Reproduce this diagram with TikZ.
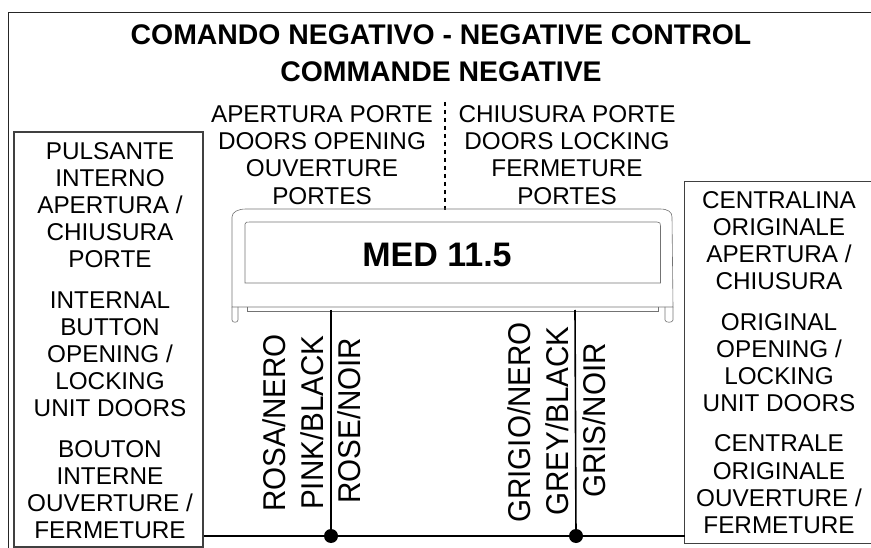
\documentclass[tikz,border=0pt]{standalone}
\usepackage{fontspec}
\usepackage{graphicx}
\setmainfont{Liberation Sans}
\newcommand\narrowlbl[1]{\scalebox{0.94}[1]{#1}}
\tikzset{
  wire/.style={line width=1.6pt,black},
  frameline/.style={line width=1.1pt,draw=black!85},
  boxline/.style={line width=1.1pt,draw=black!75},
  housing/.style={line width=0.6pt,draw=black!55},
  lbl/.style={font=\fontsize{24.3}{27.2}\selectfont,align=center,inner sep=0pt},
  rot/.style={font=\fontsize{31.5}{34}\selectfont,inner sep=0pt,rotate=90,anchor=base west},
  ttl/.style={font=\fontsize{28.4}{37}\selectfont\bfseries,align=center,inner sep=0pt},
  dot/.style={circle,fill=black,inner sep=0pt,minimum size=14pt}
}
\begin{document}
\begin{tikzpicture}[x=1pt,y=-1pt]
\useasboundingbox (0,0) rectangle (871,548);
\draw[frameline] (8.5,548) -- (8.5,12.5) -- (871,12.5);
\node[ttl] (title) at (441,53) {COMANDO NEGATIVO - NEGATIVE CONTROL\\COMMANDE NEGATIVE};
\node[lbl] (open) at (322,155) {APERTURA PORTE\\DOORS OPENING\\OUVERTURE\\PORTES};
\node[lbl] (close) at (567,155) {CHIUSURA PORTE\\DOORS LOCKING\\FERMETURE\\PORTES};
\coordinate (divtop) at (445,102);
\coordinate (divbot) at (445,210);
\draw[line width=1.4pt,dash pattern=on 4pt off 4pt] (divtop) -- (divbot);
\draw[housing] (232,307) -- (232,217) .. controls (232,212) and (238,209) .. (246,209) -- (660,209) .. controls (668,209) and (672,212) .. (672,217) -- (673,307) -- cycle;
\draw[housing] (232,307) -- (232,320) .. controls (232,323) and (238,323) .. (238,320) -- (238,307);
\draw[housing] (665,307) -- (665,320) .. controls (665,323) and (673,323) .. (673,320) -- (673,307);
\draw[housing] (247,307) -- (247,311) -- (658,311) -- (658,307);
\draw[housing] (245,283) -- (245,224) .. controls (245,222) and (247,222) .. (250,222) -- (657,222) .. controls (660,222) and (660.5,223) .. (660.5,226) -- (660.5,283) -- cycle;
\node[font=\fontsize{34}{38}\selectfont\bfseries,inner sep=0pt] (med) at (437,255) {MED 11.5};
\node[draw,boxline,minimum width=189pt,minimum height=415pt,inner sep=0pt] (left) at (108.5,339.5) {};
\node[lbl] (lefttext) at (110,340.5) {PULSANTE\\INTERNO\\APERTURA /\\CHIUSURA\\PORTE\\[13pt]INTERNAL\\BUTTON\\OPENING /\\LOCKING\\UNIT DOORS\\[13pt]BOUTON\\INTERNE\\OUVERTURE /\\FERMETURE};
\node[lbl,minimum width=188pt,minimum height=361pt] (right) at (779,362.5) {CENTRALINA\\ORIGINALE\\APERTURA /\\CHIUSURA\\[13pt]ORIGINAL\\OPENING /\\LOCKING\\UNIT DOORS\\[13pt]CENTRALE\\ORIGINALE\\OUVERTURE /\\FERMETURE};
\draw[boxline] (right.north east) -- (right.north west) -- (right.south west) -- (right.south east);
\node[dot] (j1) at (331,536) {};
\node[dot] (j2) at (576,536) {};
\coordinate (t1) at (331,310);
\coordinate (t2) at (575,310);
\draw[wire] (left.east |- j1) -- (j1) -- (j2) -- (right.west |- j2);
\draw[wire] (t1) -- (j1);
\draw[wire] (t2) -- (j2);
\node[rot] (a1) at (285,512) {\narrowlbl{ROSA/NERO}};
\node[rot] (a2) at (323,510) {\narrowlbl{PINK/BLACK}};
\node[rot] (a3) at (360,504) {\narrowlbl{ROSE/NOIR}};
\node[rot] (b1) at (530,523) {\narrowlbl{GRIGIO/NERO}};
\node[rot] (b2) at (568,516) {\narrowlbl{GREY/BLACK}};
\node[rot] (b3) at (605,498) {\narrowlbl{GRIS/NOIR}};
\end{tikzpicture}
\end{document}
